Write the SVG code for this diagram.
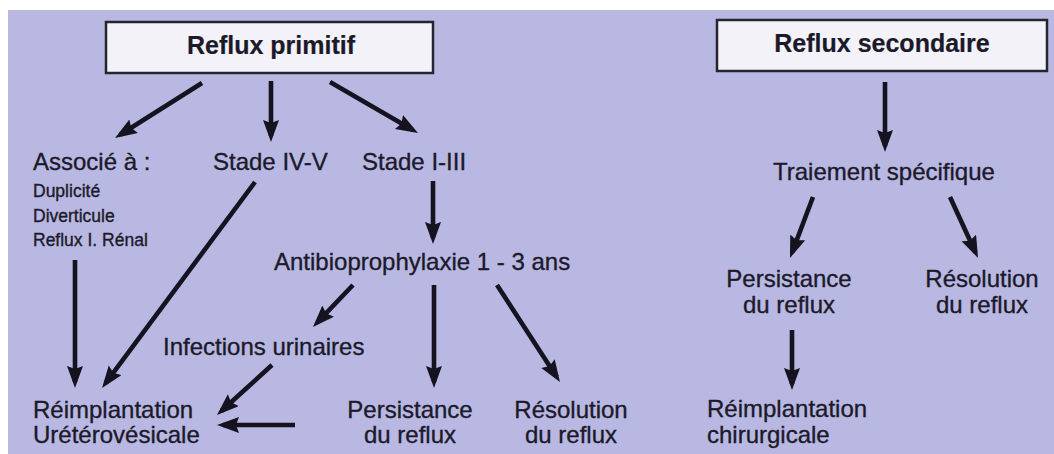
<svg xmlns="http://www.w3.org/2000/svg" width="1054" height="454" viewBox="0 0 1054 454">
<defs>
<marker id="ah" markerUnits="userSpaceOnUse" markerWidth="24" markerHeight="18" refX="16" refY="8" orient="auto">
<path d="M0,0 L22,8 L0,16 L3,8 z" fill="#15131f"/>
</marker>
<style>
text{font-family:"Liberation Sans",Arial,Helvetica,sans-serif;fill:#1c1a2a;stroke:#1c1a2a;stroke-width:0.35px;}
.t{font-size:24px;}
.s{font-size:17.5px;}
.b{font-size:25px;font-weight:bold;stroke-width:0.2px;}
.m{text-anchor:middle;}
.box{fill:#f3f2f9;stroke:#26242f;stroke-width:2.5;}
.c{stroke:#15131f;stroke-width:4.6;fill:none;marker-end:url(#ah);}
</style>
</defs>
<rect x="0" y="0" width="1054" height="454" fill="#ffffff"/>
<rect x="8" y="10" width="1046" height="444" fill="#b9b8e2"/>

<g id="connectors">
<line class="c" x1="202" y1="83" x2="120.1" y2="134.8"/>
<line class="c" x1="271" y1="81" x2="271" y2="136"/>
<line class="c" x1="330" y1="82" x2="412.8" y2="130"/>
<line class="c" x1="75" y1="260" x2="75" y2="382"/>
<line class="c" x1="255" y1="182" x2="105.6" y2="383.2"/>
<line class="c" x1="433" y1="181" x2="433" y2="238"/>
<line class="c" x1="353" y1="285" x2="317.1" y2="322.7"/>
<line class="c" x1="434" y1="285" x2="434" y2="382"/>
<line class="c" x1="497" y1="285" x2="556.7" y2="377"/>
<line class="c" x1="272" y1="365" x2="221.4" y2="411"/>
<line class="c" x1="295" y1="425" x2="223" y2="425"/>
<line class="c" x1="885" y1="82" x2="885" y2="146"/>
<line class="c" x1="813" y1="197" x2="792.1" y2="252.4"/>
<line class="c" x1="950" y1="197" x2="975.5" y2="252.5"/>
<line class="c" x1="792" y1="330" x2="792" y2="384"/>
</g>

<g id="reflux-primitif">
<rect class="box" x="106" y="22" width="327" height="51"/>
<text class="b m" x="271" y="54">Reflux primitif</text>
</g>
<g id="associe">
<text class="t" x="33" y="170">Associé à :</text>
<text class="s" x="33" y="197">Duplicité</text>
<text class="s" x="33" y="222">Diverticule</text>
<text class="s" x="33" y="246">Reflux I. Rénal</text>
</g>
<g id="stade-iv-v">
<text class="t" x="213" y="170">Stade IV-V</text>
</g>
<g id="stade-i-iii">
<text class="t" x="362" y="170">Stade I-III</text>
</g>
<g id="antibio">
<text class="t" x="274" y="270">Antibioprophylaxie 1 - 3 ans</text>
</g>
<g id="infections">
<text class="t" x="163" y="355">Infections urinaires</text>
</g>
<g id="reimplantation-uv">
<text class="t" x="33" y="418">Réimplantation</text>
<text class="t" x="33" y="443">Urétérovésicale</text>
</g>
<g id="persistance-1">
<text class="t m" x="410" y="418">Persistance</text>
<text class="t m" x="410" y="443">du reflux</text>
</g>
<g id="resolution-1">
<text class="t m" x="571" y="418">Résolution</text>
<text class="t m" x="571" y="443">du reflux</text>
</g>

<g id="reflux-secondaire">
<rect class="box" x="717" y="20" width="330" height="51"/>
<text class="b m" x="882" y="52">Reflux secondaire</text>
</g>
<g id="traitement">
<text class="t" x="773" y="180">Traiement spécifique</text>
</g>
<g id="persistance-2">
<text class="t m" x="789" y="287">Persistance</text>
<text class="t m" x="789" y="313">du reflux</text>
</g>
<g id="resolution-2">
<text class="t m" x="982" y="287">Résolution</text>
<text class="t m" x="982" y="313">du reflux</text>
</g>
<g id="reimplantation-chir">
<text class="t" x="707" y="417">Réimplantation</text>
<text class="t" x="707" y="443">chirurgicale</text>
</g>
</svg>
